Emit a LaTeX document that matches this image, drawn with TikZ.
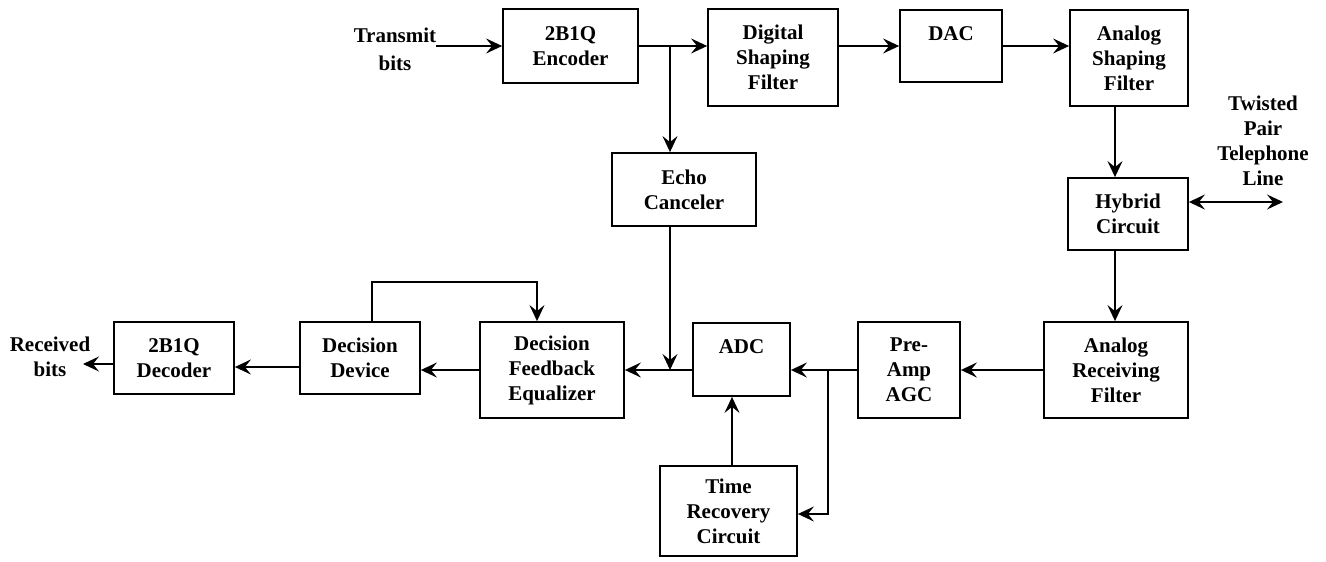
\documentclass[tikz,border=0pt]{standalone}
\usepackage{fontspec}
\setmainfont{Liberation Serif}
\usepackage{tikz}
\usetikzlibrary{arrows.meta,positioning}

\begin{document}
\begin{tikzpicture}[
    x=1pt, y=-1pt,
    font=\fontsize{21}{25}\selectfont\bfseries,
    block/.style={rectangle, draw=black, fill=white, line width=1.8pt, align=center, inner sep=0pt},
    label/.style={align=center, inner sep=0pt},
    arrow/.style={-{Stealth[length=16pt, width=15pt, inset=6pt]}, line width=1.8pt},
    twoway/.style={{Stealth[length=16pt, width=15pt, inset=6pt]}-{Stealth[length=16pt, width=15pt, inset=6pt]}, line width=1.8pt}
]
\useasboundingbox (0,0) rectangle (1326,562);

% Top Layer: Transmit path
\node[label] (tx) at (395,49) {Transmit\\[3pt]bits};
\node[block, minimum width=135, minimum height=74] (enc) at (570.5,46) {2B1Q\\Encoder};
\node[block, minimum width=130, minimum height=97] (dsf) at (773,57.5) {Digital\\Shaping\\Filter};
\node[block, minimum width=102, minimum height=72] (dac) at (951,46) {DAC\\\mbox{}};
\node[block, minimum width=118, minimum height=96] (asf) at (1129,58) {Analog\\Shaping\\Filter};

% Middle Layer: Echo path and line interface
\node[block, minimum width=144, minimum height=73] (echo) at (684,189.5) {Echo\\Canceler};
\node[block, minimum width=120, minimum height=72] (hyb) at (1128,214) {Hybrid\\Circuit};
\node[label] (tpl) at (1263,141) {Twisted\\Pair\\Telephone\\Line};

% Bottom Layer: Receive path
\node[block, minimum width=144, minimum height=96] (arf) at (1116,370) {Analog\\Receiving\\Filter};
\node[block, minimum width=102, minimum height=96] (pre) at (909,370) {Pre-\\Amp\\AGC};
\node[block, minimum width=97, minimum height=73] (adc) at (741.5,359.5) {ADC\\\mbox{}};
\node[block, minimum width=137, minimum height=90] (trc) at (728.5,511) {Time\\Recovery\\Circuit};
\node[block, minimum width=144, minimum height=96] (dfe) at (552,370) {Decision\\Feedback\\Equalizer};
\node[block, minimum width=120, minimum height=72] (dd) at (360,358) {Decision\\Device};
\node[block, minimum width=120, minimum height=72] (dec) at (174,358) {2B1Q\\Decoder};
\node[label] (rx) at (50,357) {Received\\bits};

% Junctions and bends
\coordinate (echoin) at (670,46);
\coordinate (lineside) at (1115,0);
\coordinate (lineend) at (1283,202);
\coordinate (tapin) at (828,370);
\coordinate (taptrc) at (828,514);
\coordinate (clkup) at (732,0);
\coordinate (rxend) at (83,364);
\coordinate (fbleft) at (372,282);
\coordinate (fbright) at (537,282);

% Connections
\draw[arrow] (tx.east |- enc.west) -- (enc.west);
\draw[arrow] (enc.east) -- (enc.east -| dsf.west);
\draw[arrow] (echoin) -- (echoin |- echo.north);
\draw[arrow] (dsf.east |- dac.west) -- (dac.west);
\draw[arrow] (dac.east) -- (dac.east -| asf.west);
\draw[arrow] (asf.south -| lineside) -- (hyb.north -| lineside);
\draw[twoway] (hyb.east |- lineend) -- (lineend);
\draw[arrow] (hyb.south -| lineside) -- (arf.north -| lineside);
\draw[arrow] (arf.west) -- (pre.east);
\draw[arrow] (pre.west) -- (pre.west -| adc.east);
\draw[arrow] (tapin) -- (taptrc) -- (taptrc -| trc.east);
\draw[arrow] (trc.north -| clkup) -- (adc.south -| clkup);
\draw[arrow] (adc.west |- dfe.east) -- (dfe.east);
\draw[arrow] (echo.south -| echoin) -- (echoin |- dfe.east);
\draw[arrow] (dfe.west) -- (dfe.west -| dd.east);
\draw[arrow] (dd.west |- 0,367) -- (dec.east |- 0,367);
\draw[arrow] (dec.west |- rxend) -- (rxend);
\draw[arrow] (dd.north -| fbleft) -- (fbleft) -- (fbright) -- (fbright |- dfe.north);

\end{tikzpicture}
\end{document}
